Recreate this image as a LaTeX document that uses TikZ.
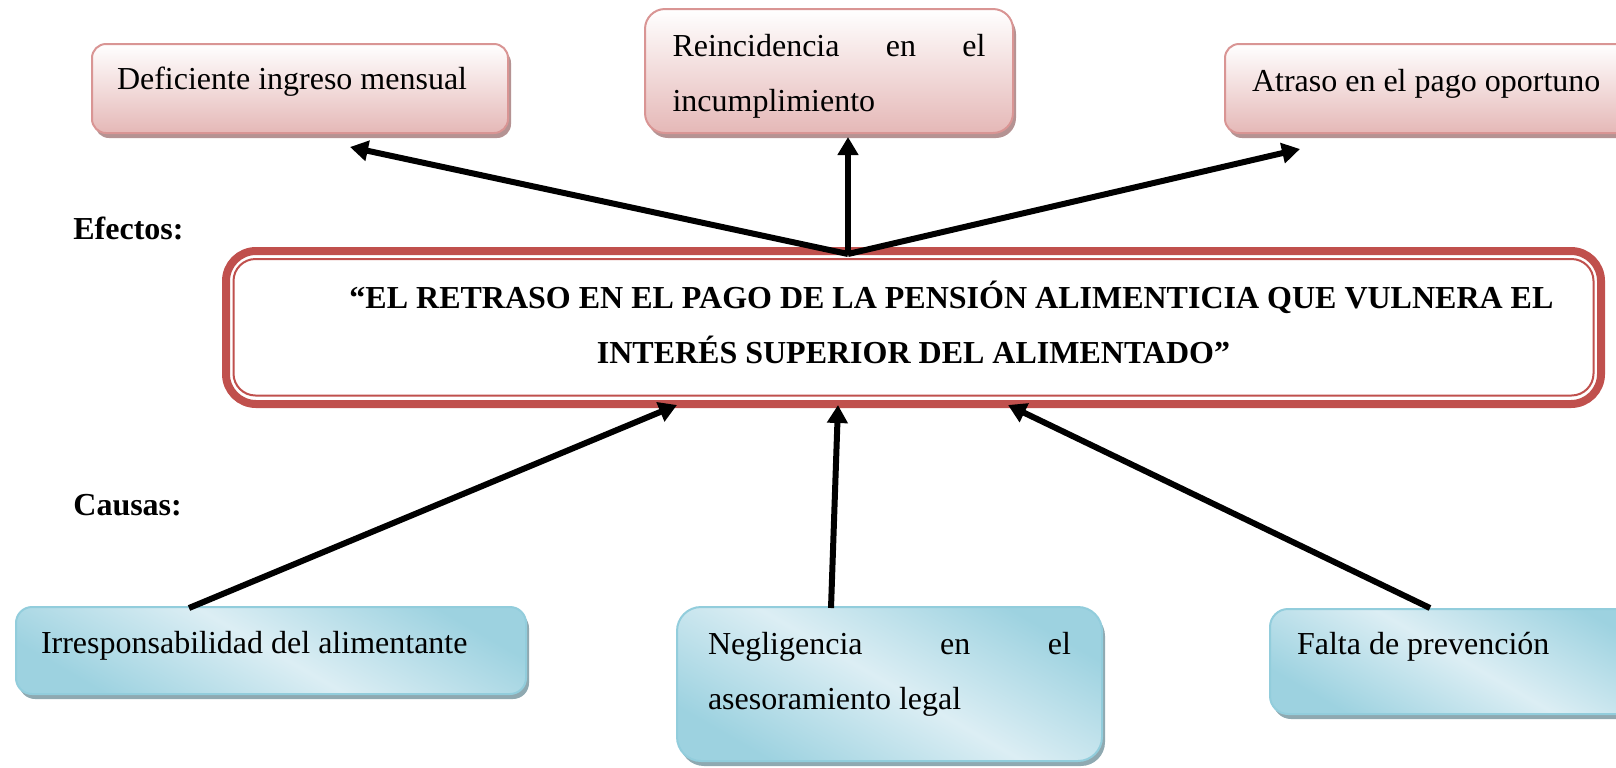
\documentclass[tikz,border=0pt]{standalone}
\usepackage{fontspec}
\setmainfont{Liberation Serif}
\usepackage{xcolor}
\usetikzlibrary{calc}
\usetikzlibrary{arrows.meta,shadows}
\definecolor{pinkedge}{HTML}{D99594}
\definecolor{pinkbot}{HTML}{E5B8B7}
\definecolor{pinkshadow}{HTML}{B59393}
\definecolor{blueedge}{HTML}{92CDDC}
\definecolor{bluedark}{HTML}{9DD2E0}
\definecolor{bluelight}{HTML}{DCEEF4}
\definecolor{blueshadow}{HTML}{8FA9B1}
\definecolor{titlered}{HTML}{C0504D}
\tikzset{
	effectbox/.style={
			anchor=north west, draw=pinkedge, line width=1pt, rounded corners=7pt,
			top color=white, bottom color=pinkbot, inner ysep=0pt, align=justify,
			drop shadow={shadow xshift=1.5pt, shadow yshift=-2.5pt, opacity=1, fill=pinkshadow}
		},
	causebox/.style={
			anchor=north west, draw=blueedge, line width=1pt, rounded corners=8pt,
			top color=bluedark, bottom color=bluedark, middle color=bluelight, shading angle=-30,
			inner ysep=0pt, align=justify,
			drop shadow={shadow xshift=1.5pt, shadow yshift=-2.5pt, opacity=1, fill=blueshadow}
		},
	heading/.style={anchor=base west, inner sep=0pt, font=\fontsize{16}{27.5}\selectfont\bfseries},
	arrow/.style={line width=3pt, -{Triangle[length=9pt,width=10pt]}}
}

\begin{document}
\begin{tikzpicture}[x=0.5pt, y=-0.5pt, font=\fontsize{16}{27.5}\selectfont]
	\useasboundingbox (0,0) rectangle (1616,767);
	\clip (0,0) rectangle (1616,767);

	% efectos
	\node[effectbox, text width=183pt, inner xsep=12.5pt, text height=22.5pt, text depth=22pt]
		(def) at (91,43) {Deficiente ingreso mensual};
	\node[effectbox, rounded corners=10pt, text width=156.5pt, inner xsep=13.75pt, text height=23.5pt, text depth=38.5pt]
		(rein) at (644,8) {Reincidencia\hfill en\hfill el\\incumplimiento};
	\node[effectbox, text width=183pt, inner xsep=13.5pt, text height=23.5pt, text depth=21pt]
		(atr) at (1224,43) {Atraso en el pago oportuno};

	\node[heading] (efectos) at (73,239) {Efectos:};

	% problema central
	\node[draw=titlered, line width=4pt, rounded corners=15pt, fill=white,
		minimum width=687.5pt, minimum height=76.5pt, align=center,
		text height=45pt, text depth=9.5pt,
		font=\fontsize{16}{27.5}\selectfont\bfseries]
		(title) at (913.5,327.5) {\hspace*{38pt}“EL RETRASO EN EL PAGO DE LA PENSIÓN ALIMENTICIA QUE VULNERA EL\\INTERÉS SUPERIOR DEL ALIMENTADO”};
	\draw[titlered, line width=1pt, rounded corners=11pt]
		($(title.north west)+(11.5,12)$) rectangle ($(title.south east)+(-11.5,-12.5)$);

	\node[heading] (causas) at (73,515) {Causas:};

	% causas
	\node[causebox, text width=230pt, inner xsep=12.5pt, text height=23pt, text depth=20.5pt]
		(irr) at (15,606) {Irresponsabilidad del alimentante};
	\node[causebox, rounded corners=12pt, text width=181.5pt, inner xsep=15.5pt, text height=23.5pt, text depth=53.5pt]
		(neg) at (676,606) {Negligencia\hfill en\hfill el\\asesoramiento legal};
	\node[causebox, rounded corners=9pt, text width=168pt, inner xsep=13.5pt, text height=22.5pt, text depth=30pt]
		(fal) at (1269,608) {Falta de prevención};

	% flechas
	\draw[arrow] ($(title.north)+(-65.5,7)$) -- ($(def.south west)+(259,13)$);
	\draw[arrow] ($(title.north)+(-65.5,7)$) -- ($(rein.south west)+(204,3)$);
	\draw[arrow] ($(title.north)+(-65.5,7)$) -- ($(atr.south west)+(76,15)$);
	\draw[arrow] ($(irr.north west)+(174,2)$) -- ($(title.south west)+(455,-3)$);
	\draw[arrow] ($(neg.north west)+(155,2)$) -- ($(title.south west)+(616,-3)$);
	\draw[arrow] ($(fal.north west)+(161,0)$) -- ($(title.south west)+(786,-3)$);
\end{tikzpicture}
\end{document}
